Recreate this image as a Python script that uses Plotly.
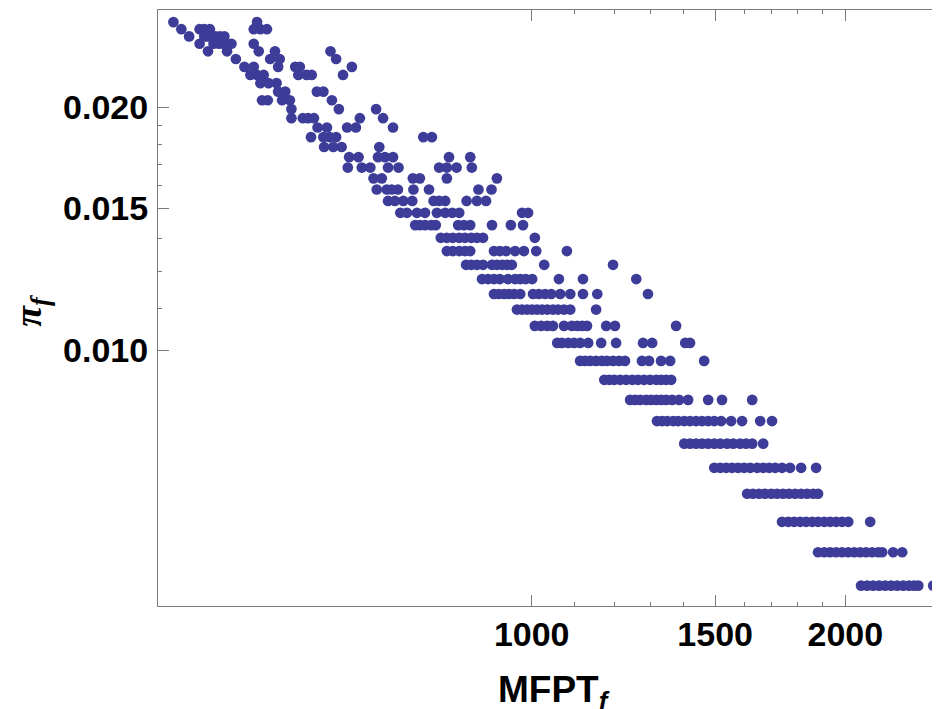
import plotly.graph_objects as go

# pi_f level of each row of points (top to bottom)
pi_rows = [0.025510, 0.025000, 0.024490, 0.023980, 0.023469, 0.022959, 0.022449,
           0.021939, 0.021429, 0.020918, 0.020408, 0.019898, 0.019388, 0.018878,
           0.018367, 0.017857, 0.017347, 0.016837, 0.016327, 0.015816, 0.015306,
           0.014796, 0.014286, 0.013776, 0.013265, 0.012755, 0.012245, 0.011735,
           0.011224, 0.010714, 0.010204, 0.009694, 0.009184, 0.008673, 0.008163,
           0.007653, 0.007143, 0.006633, 0.006122, 0.005612, 0.005102]

# MFPT_f values of the points on each row
mfpt_rows = [
    [453, 545],
    [461, 480, 485, 491, 541, 549, 557],
    [469, 485, 488, 492, 497, 502, 507],
    [480, 495, 501, 506, 515, 541],
    [489, 510, 547, 567, 641],
    [520, 561, 573, 649],
    [530, 541, 571, 593, 599, 672],
    [537, 545, 553, 597, 608, 615, 659],
    [549, 559, 569],
    [571, 580, 622, 631],
    [551, 558, 576, 586, 643],
    [588, 653, 709],
    [588, 603, 610, 618, 684, 720],
    [623, 636, 665, 678, 736],
    [614, 631, 640, 649, 787, 802],
    [632, 645, 657, 714],
    [668, 682, 712, 723, 736, 833, 873],
    [666, 687, 700, 728, 745, 815, 829, 847, 876],
    [705, 718, 769, 781, 829, 926],
    [710, 726, 734, 744, 770, 797, 889, 915],
    [728, 739, 753, 768, 805, 815, 826, 866, 886, 904],
    [748, 759, 776, 790, 811, 826, 839, 852, 979, 992],
    [773, 781, 790, 801, 809, 850, 861, 873, 916, 955, 981],
    [818, 829, 840, 852, 863, 875, 886, 898, 1007],
    [829, 840, 852, 863, 873, 920, 932, 945, 964, 983, 1010, 1081],
    [865, 875, 886, 898, 916, 926, 937, 947, 957, 1028, 1197],
    [896, 908, 920, 932, 949, 964, 975, 987, 1001, 1062, 1120, 1260],
    [920, 930, 941, 951, 962, 975, 1003, 1016, 1030, 1044, 1065, 1089, 1120, 1156, 1293],
    [968, 979, 990, 1001, 1012, 1023, 1035, 1048, 1060, 1074, 1089, 1153],
    [1007, 1021, 1035, 1048, 1074, 1093, 1106, 1118, 1130, 1179, 1202, 1376],
    [1058, 1069, 1084, 1098, 1113, 1133, 1166, 1205, 1279, 1305, 1404, 1419],
    [1113, 1125, 1138, 1153, 1168, 1181, 1197, 1213, 1229, 1276, 1296, 1331, 1358, 1464],
    [1174, 1187, 1200, 1216, 1232, 1249, 1265, 1282, 1299, 1317, 1331, 1346, 1361],
    [1243, 1257, 1271, 1288, 1302, 1317, 1331, 1346, 1364, 1385, 1413, 1477, 1523, 1628],
    [1319, 1334, 1349, 1367, 1382, 1401, 1419, 1438, 1457, 1477, 1497, 1520, 1554, 1592, 1657, 1701],
    [1401, 1419, 1438, 1457, 1477, 1497, 1517, 1540, 1561, 1585, 1606, 1628, 1668],
    [1497, 1517, 1537, 1557, 1578, 1599, 1621, 1646, 1668, 1690, 1713, 1739, 1770, 1814, 1875],
    [1610, 1631, 1653, 1675, 1698, 1720, 1743, 1766, 1790, 1814, 1838, 1863, 1883],
    [1739, 1763, 1786, 1810, 1834, 1859, 1883, 1909, 1934, 1960, 1986, 2013, 2113],
    [1883, 1909, 1934, 1960, 1986, 2013, 2040, 2067, 2094, 2122, 2151, 2170, 2223, 2268],
    [2071, 2099, 2127, 2155, 2184, 2213, 2243, 2273, 2303, 2329, 2350, 2429],
]

x_major = [1000, 1500, 2000]
x_major_text = ["1000", "1500", "2000"]
x_minor = [1100, 1200, 1300, 1400, 1600, 1700, 1800, 1900]
y_major = [0.010, 0.015, 0.020]
y_major_text = ["0.010", "0.015", "0.020"]
y_minor = [0.01125, 0.0125, 0.01375, 0.016, 0.017, 0.018, 0.019]

mfpt = []
pi_f = []
for level, row in zip(pi_rows, mfpt_rows):
    mfpt.extend(row)
    pi_f.extend([level] * len(row))

AXIS = "#7a7a7a"
TICKFONT = dict(family="Liberation Sans, Arial, sans-serif", size=34, color="black", weight="bold")

fig = go.Figure(go.Scatter(
    x=mfpt, y=pi_f, mode="markers",
    marker=dict(size=10.7, color="#3d3d99", line=dict(width=0)),
    hoverinfo="x+y",
))

fig.update_layout(
    width=940, height=709,
    margin=dict(l=150, r=0, t=2, b=111),
    paper_bgcolor="white", plot_bgcolor="white",
    showlegend=False,
    xaxis=dict(
        type="log", range=[2.64130, 3.39960], automargin=False,
        showgrid=False, zeroline=False,
        showline=True, linecolor=AXIS, linewidth=1, mirror="ticks",
        ticks="inside", ticklen=11, tickwidth=1, tickcolor=AXIS,
        tickmode="array", tickvals=x_major, ticktext=x_major_text,
        tickfont=TICKFONT, ticklabelstandoff=-2,
        minor=dict(tickmode="array", tickvals=x_minor, ticks="inside",
                   ticklen=4, tickwidth=1, tickcolor=AXIS, showgrid=False),
    ),
    yaxis=dict(
        type="log", range=[-2.31754, -1.57827], automargin=False,
        showgrid=False, zeroline=False,
        showline=True, linecolor=AXIS, linewidth=1,
        ticks="inside", ticklen=11, tickwidth=1, tickcolor=AXIS,
        tickmode="array", tickvals=y_major, ticktext=y_major_text,
        tickfont=TICKFONT, ticklabelstandoff=2,
        minor=dict(tickmode="array", tickvals=y_minor, ticks="inside",
                   ticklen=4, tickwidth=1, tickcolor=AXIS, showgrid=False),
    ),
    annotations=[
        dict(text="<b>MFPT<sub><i>f</i></sub></b>", xref="paper", yref="paper",
             x=0.5013, y=-0.1437, xanchor="center", yanchor="middle",
             showarrow=False,
             font=dict(family="Liberation Sans, Arial, sans-serif", size=37, color="black")),
        dict(text="<b><i>π<sub>f</sub></i></b>", xref="paper", yref="paper",
             x=-0.1608, y=0.497, xanchor="center", yanchor="middle",
             textangle=-90, showarrow=False,
             font=dict(family="Liberation Serif, serif", size=38, color="black")),
    ],
)

fig.write_html("out.html")
